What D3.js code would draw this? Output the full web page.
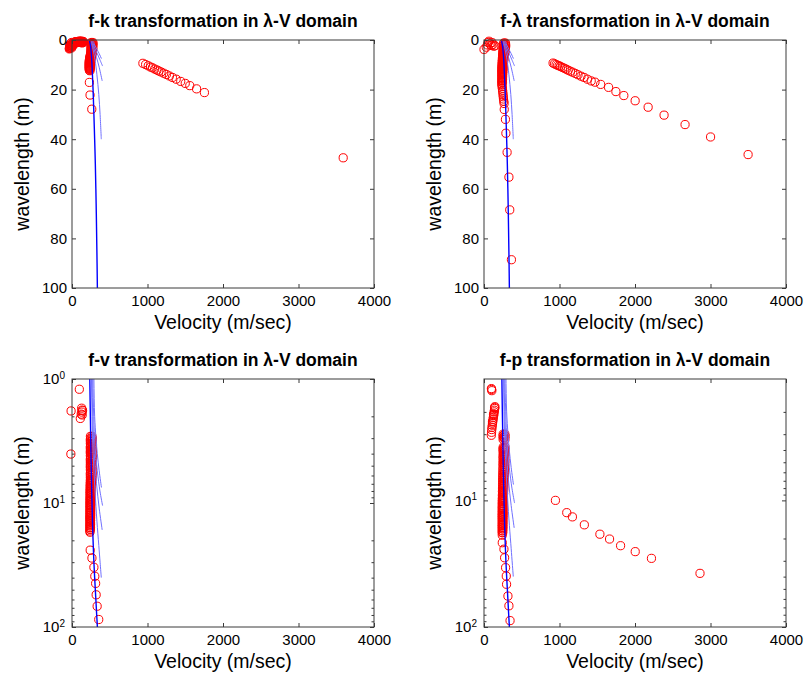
<!DOCTYPE html>
<html>
<head>
<meta charset="utf-8">
<script src="https://cdn.jsdelivr.net/npm/d3@7"></script>
<style>
  body { margin: 0; background: #fff; }
  svg { display: block; }
  text { font-family: Arial, "Liberation Sans", Helvetica, sans-serif; fill: #000; }
</style>
</head>
<body>
<svg id="fig" width="809" height="675"></svg>
<script>
// ---- axis ticks ----
const velocityTicks = [0, 1000, 2000, 3000, 4000];
const linearWaveTicks = [0, 20, 40, 60, 80, 100];
const logWaveTicks = [1, 10, 100];
const logMinorTicks = [2, 3, 4, 5, 6, 7, 8, 9, 20, 30, 40, 50, 60, 70, 80, 90];

// ---- theoretical dispersion curves (wavelength m, velocity m/s) ----
const fundamentalLambda = [0.3, 1, 1.5, 2, 3, 5, 7, 10, 15, 20, 30, 40, 50, 60, 70, 80, 90, 100];
const fundamentalV      = [232, 236, 240, 243, 248, 254, 259, 265, 272, 279, 290, 300, 309, 316, 322, 327, 332, 336];
const mode1Lambda = [0.5, 1.0, 2, 3, 4, 5.5, 7.5];
const mode1V      = [286, 290, 300, 318, 335, 360, 390];
const mode2Lambda = [0.5, 1.0, 2, 3.5, 5.5, 8, 10.5];
const mode2V      = [272, 275, 288, 305, 335, 370, 405];
const mode3Lambda = [0.5, 1.0, 2, 4, 7, 11, 16.5];
const mode3V      = [262, 265, 275, 295, 325, 360, 400];
const mode4Lambda = [0.5, 1.0, 2, 4, 8, 14, 22, 30, 40];
const mode4V      = [256, 258, 265, 280, 305, 330, 355, 372, 388];

// ---- picked points [velocity, wavelength] : f-k ----
const fkNearOrigin = [[-35,3.4],[-30,2.8],[-25,2.3],[-15,3.0],[-10,2.0],[0,1.6],[5,2.6],[10,1.3],[20,1.1],[30,0.9],
  [40,0.8],[50,0.7],[60,0.7],[70,0.6],[80,0.6],[90,0.5],[100,0.5],[110,0.5],[120,0.5],[130,0.5],[140,0.6],[150,0.6],
  [15,2.0],[25,1.6],[35,1.4],[45,1.2],[55,1.1],[65,1.0],[75,1.0],[85,0.9],[95,0.9],[105,0.8],[115,0.9],[125,1.0],
  [135,1.2],[-20,1.5],[-5,1.0],[-35,3.6],[-28,3.2],[-32,2.5],[-22,2.0],[-12,2.4],[-5,3.2],[0,2.2],[8,1.8],[18,1.5],
  [28,1.2],[38,1.0],[48,0.9],[58,0.8],[68,0.8],[78,0.8],[88,0.7],[98,0.7],[108,0.6],[118,0.7],[128,0.8],[138,0.9],[148,1.0]];
const fkColumn = [[255,1.0],[276,1.0],[252,1.4],[278,1.4],[256,1.8],[274,1.8],[253,2.2],[277,2.2],[255,2.6],[272,2.6],
  [252,3.0],[276,3.0],[254,3.4],[273,3.4],[252,3.8],[275,3.8],[254,4.2],[270,4.2],[250,4.6],[272,4.6],[252,5.0],[268,5.0],
  [248,5.4],[266,5.4],[246,5.8],[262,5.8],[242,6.2],[260,6.2],[240,6.6],[256,6.6],[236,7.0],[254,7.0],[234,7.4],[252,7.4],
  [232,7.8],[250,7.8],[230,8.2],[248,8.2],[229,8.6],[247,8.6],[228,9.0],[246,9.0],[228,9.4],[245,9.4],[227,9.8],[244,9.8],
  [228,10.2],[244,10.2],[227,10.6],[243,10.6],[228,11.0],[242,11.0],[227,11.4],[241,11.4],[228,11.8],[240,11.8],
  [230,12.2],[238,12.4]];
const fkTail = [[230,17.1],[239,22.2],[262,27.9]];
const fkBranch = [[939,9.4],[975,9.9],[1010,10.4],[1040,10.9],[1065,11.2],[1095,11.7],[1125,12.1],[1150,12.5],
  [1180,12.9],[1215,13.4],[1250,13.9],[1290,14.5],[1330,15.1],[1380,15.8],[1440,16.7],[1500,17.5],[1560,18.4],
  [1650,19.7],[1754,21.2],[3592,47.5]];

// ---- f-λ ----
const flNearOrigin = [[0,3.8],[30,2.9],[55,1.0],[66,0.5],[80,1.6],[95,2.2],[105,1.0],[118,1.8],[130,2.5],[145,2.3],[45,2.0]];
const flColumn = [[262,1.2],[282,1.2],[258,1.6],[286,1.6],[262,2.0],[284,2.0],[256,2.4],[288,2.4],[260,2.8],[282,2.8],
  [254,3.2],[280,3.2],[258,3.6],[284,3.6],[252,4.0],[278,4.0],[256,4.4],[280,4.4],[250,4.8],[274,4.8],[254,5.2],[276,5.2],
  [248,5.6],[270,5.6],[252,6.0],[272,6.0],[246,6.4],[266,6.4],[250,6.8],[268,6.8],[244,7.2],[262,7.2],[248,7.6],[264,7.6],
  [242,8.0],[260,8.0],[246,8.4],[262,8.4],[240,8.8],[256,8.8],[244,9.2],[258,9.2],[240,9.6],[254,9.6],[242,10.0],[256,10.0],
  [238,10.4],[252,10.4],[240,10.8],[254,10.8],[238,11.2],[250,11.2],[240,11.6],[252,11.6],[236,12.0],[248,12.0],
  [238,12.5],[250,12.5],[236,13.0],[247,13.0],[238,13.5],[248,13.5],[236,14.0],[246,14.0],[237,14.6],[247,14.6],
  [236,15.2],[245,15.2],[237,15.8],[246,15.8],[236,16.4],[244,16.4],[237,17.0],[245,17.0],[236,17.6],[238,18.2],
  [240,18.8],[243,19.5],[246,20.3],[249,21.1],[252,22.0],[255,22.9],[258,23.8],[262,24.7],[266,25.6]];
const flTail = [[268,28],[284,32],[290,37.6],[306,45.3],[330,55.3],[341,68.5],[363,88.6]];
const flBranch = [[915,9.3],[935,9.6],[955,9.9],[975,10.2],[995,10.4],[1015,10.7],[1040,11.1],[1065,11.4],[1090,11.8],
  [1115,12.2],[1145,12.6],[1175,13.0],[1210,13.5],[1245,14.0],[1285,14.6],[1325,15.1],[1370,15.8],[1420,16.5],
  [1470,17.0],[1545,17.9],[1650,19.1],[1747,20.8],[1852,22.4],[2002,24.5],[2174,27.1],[2385,30.3],[2663,34.1],
  [3001,39.1],[3498,46.2]];

// ---- f-v ----
const fvNearOrigin = [[97,1.21],[-12,1.81],[128,1.72],[135,1.78],[130,1.85],[140,1.8],[122,1.92],[110,2.08],[135,1.95],[-15,4.03]];
const fvColumn = [[244,2.9],[264,2.9],[246,3.0],[268,3.0],[242,3.1],[270,3.1],[245,3.2],[262,3.2],[243,3.3],[266,3.3],
  [247,3.4],[272,3.4],[244,3.5],[265,3.5],[242,3.6],[268,3.6],[246,3.7],[263,3.7],[244,3.8],[270,3.8],[242,3.9],[266,3.9],
  [245,4.0],[262,4.0],[243,4.15],[268,4.15],[246,4.3],[271,4.3],[242,4.45],[264,4.45],[244,4.6],[267,4.6],[243,4.75],
  [262,4.75],[245,4.9],[269,4.9],[242,5.05],[265,5.05],[244,5.2],[270,5.2],[243,5.4],[263,5.4],[246,5.6],[267,5.6],
  [242,5.8],[264,5.8],[244,6.0],[268,6.0],[243,6.2],[262,6.2],[245,6.4],[265,6.4],[242,6.6],[260,6.6],[244,6.8],[258,6.8],
  [240,7.0],[255,7.0],[242,7.25],[254,7.25],[239,7.5],[252,7.5],[241,7.75],[253,7.75],[238,8.0],[250,8.0],[240,8.25],
  [252,8.25],[238,8.5],[250,8.5],[240,8.8],[251,8.8],[237,9.1],[249,9.1],[239,9.4],[250,9.4],[237,9.7],[248,9.7],
  [239,10.0],[250,10.0],[237,10.3],[248,10.3],[238,10.6],[249,10.6],[236,11.0],[247,11.0],[238,11.4],[248,11.4],
  [236,11.8],[246,11.8],[238,12.2],[248,12.2],[236,12.6],[246,12.6],[237,13.0],[247,13.0],[236,13.4],[245,13.4],
  [237,13.8],[246,13.8],[236,14.3],[245,14.3],[237,14.8],[246,14.8],[236,15.3],[244,15.3],[237,15.8],[245,15.8],
  [236,16.3],[244,16.3],[237,16.8],[238,17.2]];
const fvTail = [[241,24],[264,27.8],[290,33],[302,39],[313,44.5],[320,55],[333,68],[354,87]];

// ---- f-p ----
const fpNearOrigin = [[101,1.33],[104,1.36],[98,1.31]];
const fpBand = [[145,1.82],[142,1.88],[138,1.94],[135,2.0],[131,2.07],[128,2.14],[124,2.21],[120,2.29],[117,2.37],
  [113,2.46],[110,2.55],[106,2.65],[103,2.76],[100,2.9],[97,3.06],[140,1.85],[126,2.1],[112,2.4]];
const fpColumn = [[254,3.0],[276,3.0],[252,3.1],[279,3.1],[256,3.2],[274,3.2],[253,3.3],[278,3.3],[255,3.8],[278,3.8],
  [252,3.9],[273,3.9],[254,4.0],[277,4.0],[253,4.15],[275,4.15],[256,4.3],[279,4.3],[252,4.45],[273,4.45],[254,4.6],
  [277,4.6],[253,4.75],[274,4.75],[255,4.9],[278,4.9],[252,5.05],[272,5.05],[254,5.2],[276,5.2],[251,5.4],[272,5.4],
  [253,5.6],[275,5.6],[250,5.8],[270,5.8],[252,6.0],[273,6.0],[249,6.2],[268,6.2],[251,6.4],[271,6.4],[248,6.6],[266,6.6],
  [250,6.8],[268,6.8],[247,7.0],[264,7.0],[249,7.25],[266,7.25],[246,7.5],[262,7.5],[248,7.75],[264,7.75],[245,8.0],
  [260,8.0],[247,8.25],[262,8.25],[244,8.5],[258,8.5],[246,8.8],[260,8.8],[243,9.1],[256,9.1],[245,9.4],[257,9.4],
  [242,9.7],[255,9.7],[244,10.0],[256,10.0],[241,10.3],[254,10.3],[243,10.6],[255,10.6],[240,11.0],[253,11.0],
  [242,11.4],[254,11.4],[240,11.8],[252,11.8],[242,12.2],[253,12.2],[240,12.6],[252,12.6],[241,13.0],[253,13.0],
  [240,13.4],[251,13.4],[241,13.8],[252,13.8],[240,14.3],[251,14.3],[241,14.8],[252,14.8],[240,15.3],[250,15.3],
  [241,15.8],[251,15.8],[240,16.3],[250,16.3],[241,16.8],[250,16.8],[240,17.4],[249,17.4],[241,18.0],[248,18.0],[242,18.8]];
const fpTail = [[242,21.6],[264,24.3],[273,28.4],[286,34],[295,39.6],[299,46],[317,57],[330,68],[345,89]];
const fpBranch = [[946,10.0],[1096,12.5],[1171,13.5],[1329,15.6],[1535,18.5],[1663,20.2],[1809,22.8],[2003,25.4],
  [2218,28.7],[2861,37.7]];

// ---- drawing ----
const W = 302, H = 248;
const zip = (ls, vs) => ls.map((l, i) => [vs[i], l]);
const fundamental = zip(fundamentalLambda, fundamentalV);
const modes = [zip(mode1Lambda, mode1V), zip(mode2Lambda, mode2V), zip(mode3Lambda, mode3V), zip(mode4Lambda, mode4V)];

const panels = [
  { title: "f-k transformation in λ-V domain", x0: 72,  y0: 40,  log: false, groups: [fkNearOrigin, fkColumn, fkTail, fkBranch] },
  { title: "f-λ transformation in λ-V domain", x0: 484, y0: 40,  log: false, groups: [flNearOrigin, flColumn, flTail, flBranch] },
  { title: "f-v transformation in λ-V domain", x0: 72,  y0: 379, log: true, lo: 1,   groups: [fvNearOrigin, fvColumn, fvTail] },
  { title: "f-p transformation in λ-V domain", x0: 484, y0: 379, log: true, lo: 1.1, groups: [fpNearOrigin, fpBand, fpColumn, fpTail, fpBranch] }
];

const svg = d3.select("#fig");
const axisColor = "#3a3a3a";

panels.forEach((p, idx) => {
  const g = svg.append("g").attr("transform", `translate(${p.x0},${p.y0})`);
  const x = d3.scaleLinear().domain([0, 4000]).range([0, W]);
  const y = p.log ? d3.scaleLog().domain([p.lo, 100]).range([0, H])
                  : d3.scaleLinear().domain([0, 100]).range([0, H]);

  const clipId = "clip" + idx;
  g.append("clipPath").attr("id", clipId).append("rect").attr("width", W).attr("height", H);

  // picked points (markers are not clipped)
  const pts = p.groups.flat();
  g.append("g").selectAll("circle").data(pts).join("circle")
    .attr("cx", d => x(d[0])).attr("cy", d => y(d[1])).attr("r", 4.1)
    .attr("fill", "none").attr("stroke", "#ff0000").attr("stroke-width", 1);

  // dispersion curves
  const line = d3.line().x(d => x(d[0])).y(d => y(d[1])).curve(d3.curveCatmullRom);
  const lines = g.append("g").attr("clip-path", `url(#${clipId})`);
  modes.forEach(m => lines.append("path").attr("d", line(m))
    .attr("fill", "none").attr("stroke", "#7070ff").attr("stroke-width", 1));
  lines.append("path").attr("d", line(fundamental))
    .attr("fill", "none").attr("stroke", "#0000ff").attr("stroke-width", 1.4);

  // axes
  const styleAxis = sel => {
    sel.select(".domain").remove();
    sel.selectAll(".tick line").attr("stroke", axisColor);
    sel.selectAll(".tick text").style("font-size", "15px").style("font-family", "Arial, 'Liberation Sans', sans-serif").attr("fill", "#000");
  };
  g.append("g").attr("transform", `translate(0,${H})`)
    .call(d3.axisBottom(x).tickValues(velocityTicks).tickSizeInner(-4).tickSizeOuter(0).tickPadding(7).tickFormat(d3.format("d")))
    .call(styleAxis);
  g.append("g")
    .call(d3.axisTop(x).tickValues(velocityTicks).tickSizeInner(-4).tickSizeOuter(0).tickFormat(""))
    .call(styleAxis);

  if (!p.log) {
    g.append("g")
      .call(d3.axisLeft(y).tickValues(linearWaveTicks).tickSizeInner(-4).tickSizeOuter(0).tickPadding(5).tickFormat(d3.format("d")))
      .call(styleAxis);
    g.append("g").attr("transform", `translate(${W},0)`)
      .call(d3.axisRight(y).tickValues(linearWaveTicks).tickSizeInner(-4).tickSizeOuter(0).tickFormat(""))
      .call(styleAxis);
  } else {
    const major = logWaveTicks.filter(t => t >= p.lo && t <= 100);
    const minor = logMinorTicks.filter(t => t >= p.lo && t <= 100);
    const left = g.append("g")
      .call(d3.axisLeft(y).tickValues(major).tickSizeInner(-4).tickSizeOuter(0).tickPadding(7).tickFormat(""))
      .call(styleAxis);
    left.selectAll(".tick text").each(function(d) {
      const t = d3.select(this).attr("dy", "0.32em");
      t.append("tspan").text("10").style("font-size", "15px");
      t.append("tspan").text(String(Math.round(Math.log10(d)))).attr("dy", "-0.55em").style("font-size", "10px");
    });
    g.append("g")
      .call(d3.axisLeft(y).tickValues(minor).tickSizeInner(-2.5).tickSizeOuter(0).tickFormat(""))
      .call(styleAxis);
    g.append("g").attr("transform", `translate(${W},0)`)
      .call(d3.axisRight(y).tickValues(major).tickSizeInner(-4).tickSizeOuter(0).tickFormat(""))
      .call(styleAxis);
    g.append("g").attr("transform", `translate(${W},0)`)
      .call(d3.axisRight(y).tickValues(minor).tickSizeInner(-2.5).tickSizeOuter(0).tickFormat(""))
      .call(styleAxis);
  }

  // frame
  g.append("rect").attr("width", W).attr("height", H)
    .attr("fill", "none").attr("stroke", axisColor).attr("stroke-width", 1);

  // labels
  g.append("text").attr("x", W / 2).attr("y", -13).attr("text-anchor", "middle")
    .style("font-size", "17.5px").style("font-weight", "bold").text(p.title);
  g.append("text").attr("x", W / 2).attr("y", H + 41).attr("text-anchor", "middle")
    .style("font-size", "19.5px").text("Velocity (m/sec)");
  g.append("text").attr("transform", `translate(-43,${H / 2}) rotate(-90)`).attr("text-anchor", "middle")
    .style("font-size", "19.5px").text("wavelength (m)");
});
</script>
</body>
</html>
